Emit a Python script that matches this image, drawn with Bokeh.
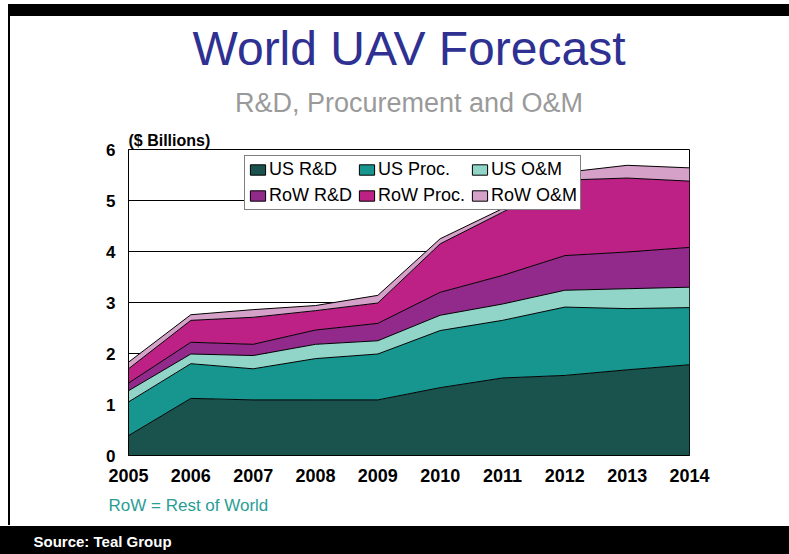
from bokeh.plotting import figure
from bokeh.models import (ColumnDataSource, Range1d, FixedTicker, Legend, LegendItem,
                          Title, InlineStyleSheet)
from bokeh.embed import file_html
from bokeh.resources import INLINE

# ---- data ($ billions) ----
years = [2005, 2006, 2007, 2008, 2009, 2010, 2011, 2012, 2013, 2014]
year_labels = ["2005", "2006", "2007", "2008", "2009", "2010", "2011", "2012", "2013", "2014"]
us_rd = [0.39, 1.12, 1.09, 1.09, 1.09, 1.33, 1.52, 1.57, 1.68, 1.78]
us_proc = [0.66, 0.68, 0.61, 0.81, 0.90, 1.12, 1.13, 1.34, 1.20, 1.12]
us_om = [0.22, 0.19, 0.26, 0.28, 0.26, 0.30, 0.32, 0.33, 0.39, 0.40]
row_rd = [0.15, 0.23, 0.22, 0.28, 0.34, 0.45, 0.56, 0.68, 0.72, 0.78]
row_proc = [0.28, 0.43, 0.53, 0.38, 0.40, 0.95, 1.24, 1.48, 1.45, 1.30]
row_om = [0.13, 0.11, 0.15, 0.10, 0.15, 0.10, 0.07, 0.15, 0.25, 0.26]
y_ticks = [0, 1, 2, 3, 4, 5, 6]

series_names = ["US R&D", "US Proc.", "US O&M", "RoW R&D", "RoW Proc.", "RoW O&M"]
keys = ["us_rd", "us_proc", "us_om", "row_rd", "row_proc", "row_om"]
colors = ["#1a524e", "#16968f", "#91d4c8", "#922a8c", "#bd2185", "#d6a1c9"]

source = ColumnDataSource(dict(year=years, us_rd=us_rd, us_proc=us_proc, us_om=us_om,
                               row_rd=row_rd, row_proc=row_proc, row_om=row_om))

FONT = "Liberation Sans"
W, H = 789, 554
FL, FR, FT, FB = 128, 689, 149, 455   # frame edges in pixels

css = InlineStyleSheet(css="""
:host::before { content: ""; position: absolute; left: 8px; top: 4px; width: 781px; height: 12px;
                background: black; z-index: 5; pointer-events: none; }
:host::after  { content: ""; position: absolute; left: 8px; top: 16px; width: 2px; height: 509px;
                background: black; z-index: 5; pointer-events: none; }
""")

p = figure(width=W, height=H, output_backend="svg", toolbar_location=None,
           x_range=Range1d(years[0], years[-1]), y_range=Range1d(y_ticks[0], y_ticks[-1]),
           min_border_left=FL, min_border_right=W - FR, min_border_top=FT, min_border_bottom=H - FB,
           stylesheets=[css])
p.background_fill_color = "white"
p.border_fill_color = "white"
p.outline_line_color = "black"
p.outline_line_width = 1

# grid
p.xgrid.grid_line_color = None
p.ygrid.grid_line_color = "black"
p.ygrid.grid_line_width = 1
p.ygrid.ticker = FixedTicker(ticks=y_ticks)

# axes
p.xaxis.ticker = FixedTicker(ticks=years)
p.xaxis.major_label_overrides = {y: l for y, l in zip(years, year_labels)}
p.yaxis.ticker = FixedTicker(ticks=y_ticks)
for ax in (p.xaxis, p.yaxis):
    ax.axis_line_color = "black"
    ax.major_tick_line_color = None
    ax.minor_tick_line_color = None
    ax.major_label_text_font = FONT
    ax.major_label_text_font_style = "bold"
    ax.major_label_text_color = "black"
p.xaxis.major_label_text_font_size = "18px"
p.yaxis.major_label_text_font_size = "17px"
p.xaxis.major_label_standoff = 7
p.yaxis.major_label_standoff = 7

# stacked areas
p.varea_stack(stackers=keys, x="year", source=source, color=colors)
p.vline_stack(stackers=keys, x="year", source=source, color="black", line_width=1)

# legend swatches (renderers with no visible mark, used only for the legend)
nan = float("nan")
items = []
for name, c in zip(series_names, colors):
    r = p.quad(left=[nan], right=[nan], top=[nan], bottom=[nan],
               fill_color=c, line_color="black", line_width=1)
    items.append(LegendItem(label=name, renderers=[r]))

legend = Legend(items=items, location=(116, 245), orientation="horizontal", ncols=3,
                label_text_font=FONT, label_text_font_size="18px", label_text_color="black",
                label_standoff=2, glyph_width=19, glyph_height=13, label_height=20,
                spacing=5, padding=3, margin=0,
                border_line_color="black", border_line_width=1.5,
                background_fill_color="white", background_fill_alpha=1.0)
p.add_layout(legend, "center")

# titles above the frame (first added sits nearest the frame)
p.add_layout(Title(text="($ Billions)", align="left", text_font=FONT, text_font_size="16px",
                   text_font_style="bold", text_color="black", standoff=2, offset=0), "above")
p.add_layout(Title(text="R&D, Procurement and O&M", align="center", text_font=FONT,
                   text_font_size="27px", text_font_style="normal", text_color="#9a9a9a",
                   standoff=22, offset=1), "above")
p.add_layout(Title(text="World UAV Forecast", align="center", text_font=FONT,
                   text_font_size="48px", text_font_style="normal", text_color="#2e3192",
                   standoff=0, offset=2), "above")

# texts below the axis
p.add_layout(Title(text="RoW = Rest of World", align="left", text_font=FONT, text_font_size="17px",
                   text_font_style="normal", text_color="#2a9d95", standoff=18, offset=-20), "below")
p.add_layout(Title(text="Source: Teal Group", align="left", text_font=FONT, text_font_size="15px",
                   text_font_style="bold", text_color="white", standoff=1, offset=-135,
                   background_fill_color="black", background_fill_alpha=1.0,
                   padding=dict(left=40, right=700, top=7, bottom=4)), "below")

open("out.html", "w").write(file_html(p, INLINE))
